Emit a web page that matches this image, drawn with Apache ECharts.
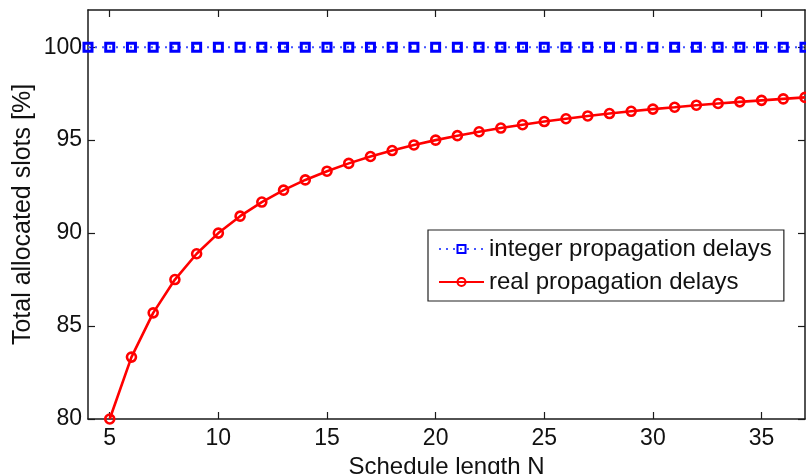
<!DOCTYPE html>
<html>
<head>
<meta charset="utf-8">
<script src="https://cdn.jsdelivr.net/npm/echarts@6/dist/echarts.min.js"></script>
<style>
html,body{margin:0;padding:0;background:#fff;}
#chart{width:806px;height:474px;}
</style>
</head>
<body>
<div id="chart"></div>
<script>
// ---- data ----
const intN = [4,5,6,7,8,9,10,11,12,13,14,15,16,17,18,19,20,21,22,23,24,25,26,27,28,29,30,31,32,33,34,35,36,37];
const intVals = [100,100,100,100,100,100,100,100,100,100,100,100,100,100,100,100,100,100,100,100,100,100,100,100,100,100,100,100,100,100,100,100,100,100];
const realN = [5,6,7,8,9,10,11,12,13,14,15,16,17,18,19,20,21,22,23,24,25,26,27,28,29,30,31,32,33,34,35,36,37];
const realVals = [80.00,83.33,85.71,87.50,88.89,90.00,90.91,91.67,92.31,92.86,93.33,93.75,94.12,94.44,94.74,95.00,95.24,95.45,95.65,95.83,96.00,96.15,96.30,96.43,96.55,96.67,96.77,96.88,96.97,97.06,97.14,97.22,97.30];
const xTicks = [5,10,15,20,25,30,35];
const yTicks = [80,85,90,95,100];
const seriesNames = ['integer propagation delays','real propagation delays'];
const xTitle = 'Schedule length N';
const yTitle = 'Total allocated slots [%]';

const FONT = '"Liberation Sans", Arial, Helvetica, sans-serif';
const chart = echarts.init(document.getElementById('chart'), null, {renderer:'canvas'});

const axisLine = {show:true, lineStyle:{color:'#1a1a1a', width:1.5}};
const tick = (vals)=>({show:true, inside:true, length:7, lineStyle:{color:'#1a1a1a', width:1.2}, customValues: vals});

chart.setOption({
  animation:false,
  backgroundColor:'#fff',
  grid:{left:88, right:1, top:10, bottom:55, containLabel:false, outerBoundsMode:'none'},
  legend:{
    orient:'vertical', left:428, top:230,
    padding:[7,12,7,10], itemGap:9, itemWidth:45, itemHeight:10,
    borderColor:'#222', borderWidth:1.2, backgroundColor:'#fff',
    textStyle:{fontFamily:FONT, fontSize:24, color:'#111'},
    data:seriesNames
  },
  xAxis:[
    {type:'value', min:4, max:37, position:'bottom',
     axisLine:axisLine, axisTick:tick(xTicks), splitLine:{show:false},
     axisLabel:{customValues:xTicks, fontFamily:FONT, fontSize:23, color:'#111', margin:8},
     name:xTitle, nameLocation:'middle', nameGap:27,
     nameTextStyle:{fontFamily:FONT, fontSize:24, color:'#111'}},
    {type:'value', min:4, max:37, position:'top',
     axisLine:axisLine, axisTick:tick(xTicks), axisLabel:{show:false}, splitLine:{show:false}}
  ],
  yAxis:[
    {type:'value', min:80, max:102, position:'left',
     axisLine:axisLine, axisTick:tick(yTicks), splitLine:{show:false},
     axisLabel:{customValues:yTicks, fontFamily:FONT, fontSize:23, color:'#111', margin:6},
     name:yTitle, nameLocation:'middle', nameGap:52, nameRotate:90, nameMoveOverlap:false,
     nameTextStyle:{fontFamily:FONT, fontSize:25, color:'#111'}},
    {type:'value', min:80, max:102, position:'right',
     axisLine:axisLine, axisTick:tick(yTicks), axisLabel:{show:false}, splitLine:{show:false}}
  ],
  series:[
    {name:seriesNames[0], type:'line', clip:false,
     data:intN.map((n,i)=>[n,intVals[i]]),
     symbol:'rect', symbolSize:8, showAllSymbol:true,
     lineStyle:{color:'#4455ff', width:2, type:[2,5]},
     itemStyle:{color:'rgba(255,255,255,0)', borderColor:'#0000ff', borderWidth:3},
     z:3},
    {name:seriesNames[1], type:'line', clip:false,
     data:realN.map((n,i)=>[n,realVals[i]]),
     symbol:'circle', symbolSize:9, showAllSymbol:true,
     lineStyle:{color:'#ff0000', width:2.6},
     itemStyle:{color:'rgba(255,255,255,0)', borderColor:'#ff0000', borderWidth:2.6},
     z:2}
  ]
});
</script>
</body>
</html>
